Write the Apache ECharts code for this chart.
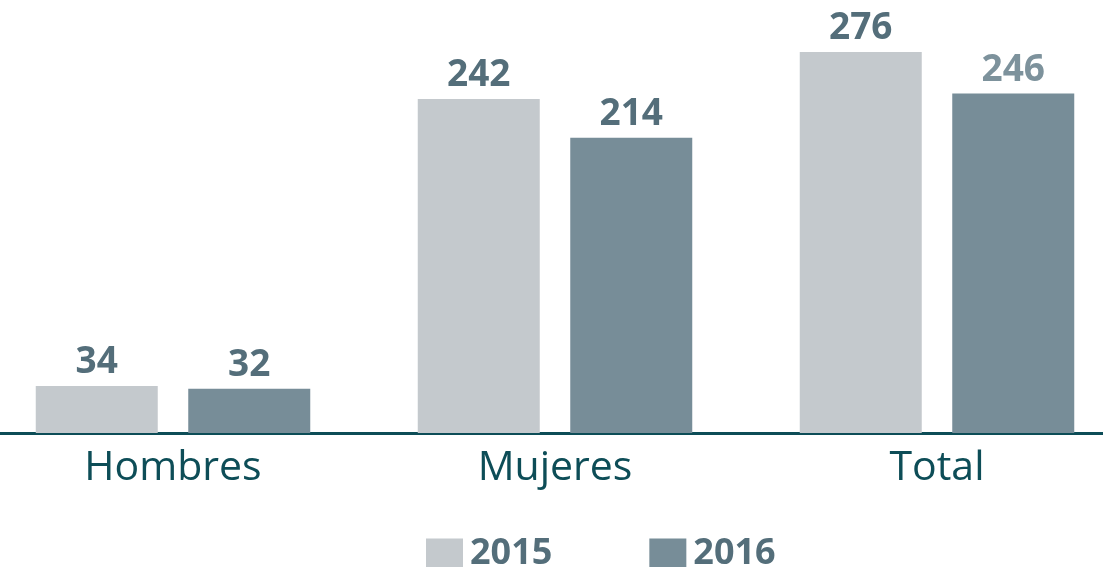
<!DOCTYPE html>
<html>
<head>
<meta charset="utf-8">
<script src="https://cdn.jsdelivr.net/npm/echarts@6/dist/echarts.min.js"></script>
<style>
  html, body { margin: 0; padding: 0; background: #ffffff; }
  #chart { width: 1103px; height: 567px; }
</style>
</head>
<body>
<div id="chart"></div>
<script>
// datos
var categorias = ['Hombres', 'Mujeres', 'Total']
var anios = ['2015', '2016']
var valores2015 = [34, 242, 276]
var valores2016 = [32, 214, 246]

var chart = echarts.init(document.getElementById('chart'))

function etiqueta (color) {
  return {
    show: true,
    position: 'top',
    distance: 5,
    fontFamily: 'Open Sans',
    fontWeight: 'bold',
    fontSize: 37,
    color: color || '#546e7a'
  }
}

chart.setOption({
  animation: false,
  color: ['#c4c9cd', '#778d98'],
  grid: {
    top: 19,
    bottom: 134,
    left: -18,
    right: -25,
    outerBoundsMode: 'none',
    containLabel: false
  },
  legend: {
    data: anios,
    top: 531,
    left: 421,
    itemWidth: 37,
    itemHeight: 31,
    itemGap: 97,
    icon: 'rect',
    textStyle: {
      fontFamily: 'Open Sans',
      fontWeight: 'bold',
      fontSize: 36,
      color: '#546e7a',
      padding: [0, 0, 0, 2]
    }
  },
  xAxis: {
    type: 'category',
    data: categorias,
    axisLine: {
      show: true,
      lineStyle: { color: '#0d4d57', width: 3 }
    },
    axisTick: { show: false },
    axisLabel: {
      margin: 15,
      fontFamily: 'Open Sans',
      fontSize: 41,
      color: '#0d4d57'
    }
  },
  yAxis: {
    type: 'value',
    min: 0,
    max: 300,
    show: false,
    splitLine: { show: false }
  },
  series: [
    {
      name: anios[0],
      type: 'bar',
      barWidth: 122,
      barGap: '25%',
      data: valores2015,
      label: etiqueta()
    },
    {
      name: anios[1],
      type: 'bar',
      barWidth: 122,
      data: valores2016.map(function (v, i) {
        // la etiqueta del total viene en un tono mas claro
        return i === 2 ? { value: v, label: { color: '#7d929c' } } : v
      }),
      label: etiqueta()
    }
  ]
})
</script>
</body>
</html>
